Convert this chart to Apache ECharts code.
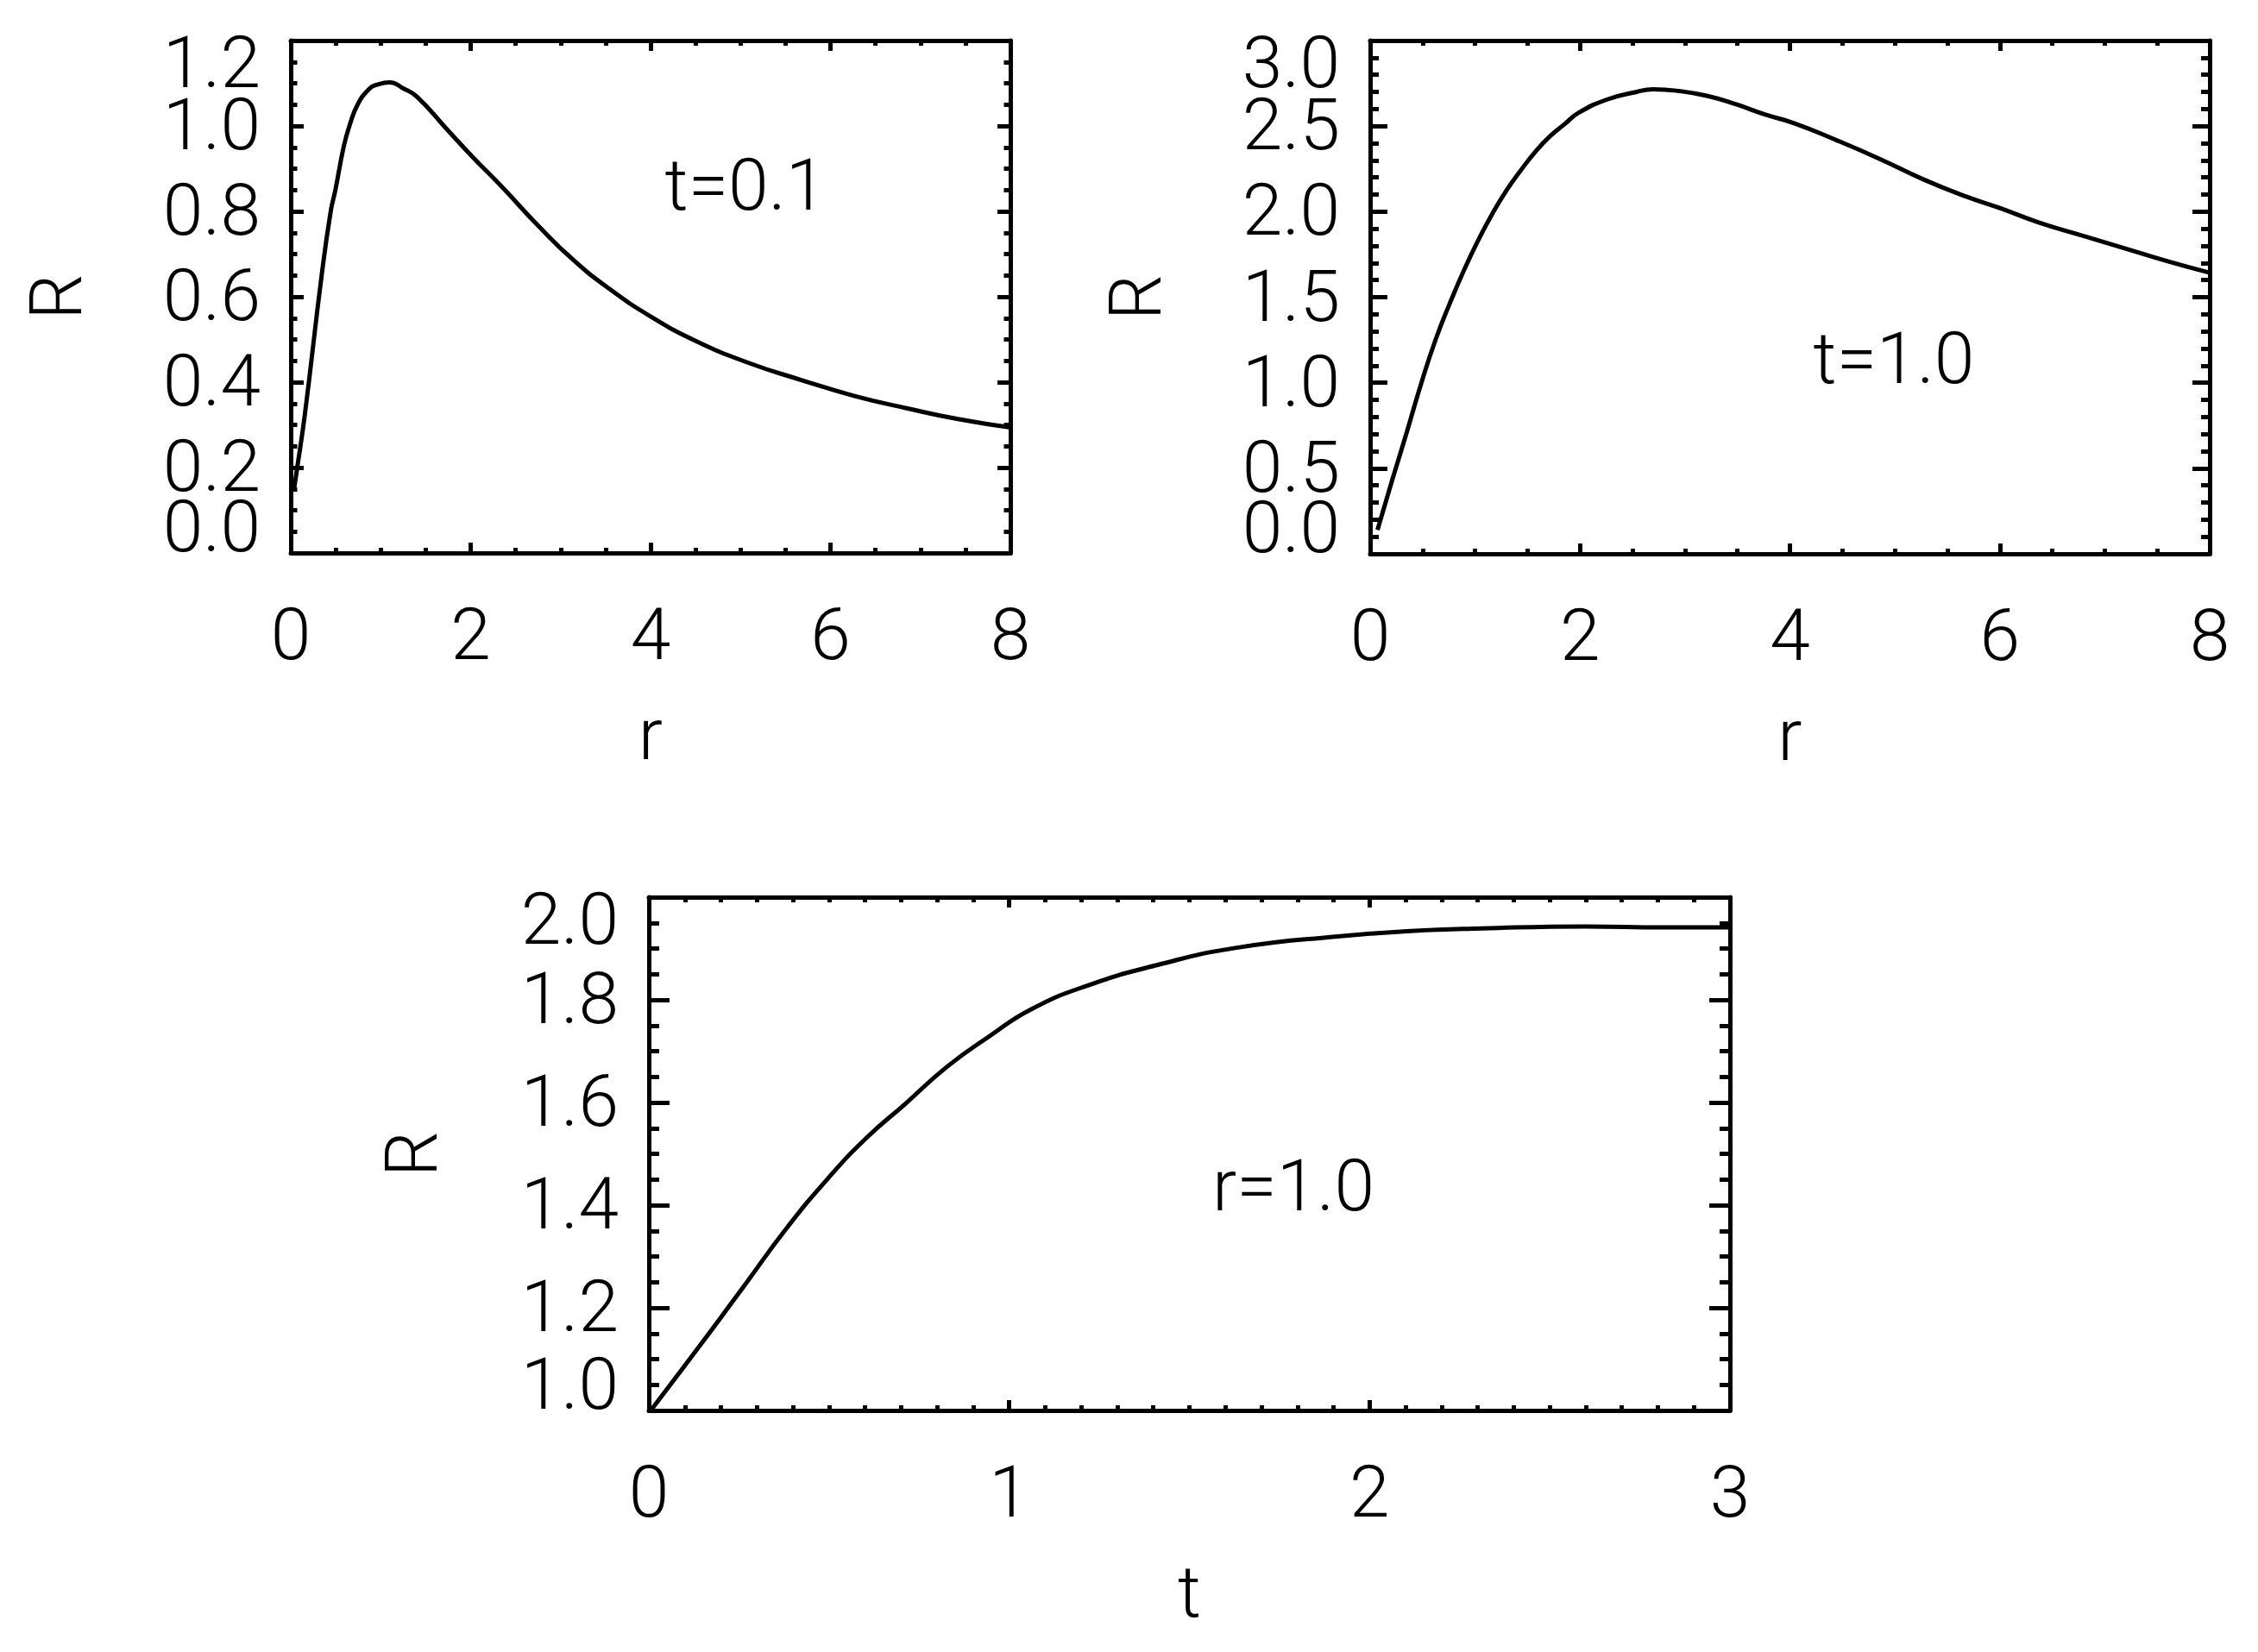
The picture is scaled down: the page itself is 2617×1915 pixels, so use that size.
<!DOCTYPE html>
<html><head><meta charset="utf-8">
<script src="https://cdn.jsdelivr.net/npm/echarts@6/dist/echarts.min.js"></script>
<style>html,body{margin:0;padding:0;background:#fff}#c{width:2617px;height:1915px}</style>
</head><body><div id="c"></div>
<script>
// ---- data ----
// Panel 1: t = 0.1, R vs r
const r1 = [0.035, 0.07, 0.157, 0.342, 0.444, 0.496, 0.588, 0.652, 0.748, 0.873, 0.95, 1.10, 1.25, 1.40, 1.724, 2.01, 2.363, 2.752, 3.142, 3.532, 4.0, 4.507, 5.092, 5.676, 6.261, 6.846, 7.431, 8.0];
const R1 = [0.147, 0.197, 0.325, 0.648, 0.80, 0.85, 0.951, 1.0, 1.052, 1.087, 1.096, 1.102, 1.088, 1.069, 0.995, 0.930, 0.854, 0.766, 0.686, 0.620, 0.554, 0.496, 0.445, 0.405, 0.368, 0.339, 0.313, 0.294];
// Panel 2: t = 1.0, R vs r
const r2 = [0.07, 0.213, 0.349, 0.486, 0.622, 0.759, 0.895, 1.032, 1.168, 1.305, 1.441, 1.578, 1.714, 1.850, 1.987, 2.260, 2.533, 2.697, 2.942, 3.215, 3.488, 3.761, 4.04, 4.45, 4.86, 5.27, 5.68, 6.0, 6.37, 6.78, 7.19, 7.60, 8.0];
const R2 = [0.14, 0.437, 0.711, 0.995, 1.249, 1.464, 1.659, 1.835, 1.992, 2.129, 2.246, 2.353, 2.441, 2.510, 2.578, 2.656, 2.699, 2.715, 2.705, 2.676, 2.627, 2.568, 2.517, 2.416, 2.307, 2.189, 2.088, 2.021, 1.937, 1.861, 1.786, 1.710, 1.643];
// Panel 3: r = 1.0, R vs t
const t3 = [0, 0.166, 0.273, 0.38, 0.497, 0.604, 0.711, 0.828, 0.945, 1.062, 1.218, 1.412, 1.627, 1.919, 2.114, 2.31, 2.60, 2.815, 3.0];
const R3 = [0.995, 1.149, 1.251, 1.353, 1.452, 1.531, 1.597, 1.670, 1.729, 1.782, 1.828, 1.868, 1.901, 1.924, 1.934, 1.939, 1.943, 1.941, 1.941];

// axis ranges: [min, max, interval, minor splits]
const xRange1 = [0, 8, 2, 4];
const yRange1 = [0, 1.2, 0.2, 4];
const xRange2 = [0, 8, 2, 4];
const yRange2 = [0, 3.0, 0.5, 5];
const xRange3 = [0, 3, 1, 10];
const yRange3 = [1.0, 2.0, 0.2, 4];

const labels = ['t=0.1', 't=1.0', 'r=1.0'];
const xNames = ['r', 'r', 't'];
const yNames = ['R', 'R', 'R'];

// ---- styling ----
const FONT = 'Roboto';
const FW = 300;
const FS = 84;
const BLACK = '#000';
const txt = {color: BLACK, fontFamily: FONT, fontWeight: FW, fontSize: FS};

const grids = [
  {left: 337, top: 47, width: 834, height: 594},
  {left: 1588, top: 47, width: 973, height: 595},
  {left: 752, top: 1040, width: 1253, height: 595}
];
const yTickLen = [15, 20, 24];
const yNameGap = [222, 222, 225];
const xTickLen = 12;

function xAxes(gi, rg, name) {
  const base = {
    type: 'value', gridIndex: gi, min: rg[0], max: rg[1], interval: rg[2],
    axisLine: {show: true, onZero: false, lineStyle: {color: BLACK, width: 5}},
    axisTick: {show: true, inside: true, length: xTickLen, lineStyle: {color: BLACK, width: 5}},
    minorTick: {show: true, splitNumber: rg[3], length: xTickLen / 2, lineStyle: {color: BLACK, width: 5}},
    splitLine: {show: false}, minorSplitLine: {show: false}
  };
  return [
    Object.assign({}, base, {
      position: 'bottom',
      axisLabel: Object.assign({show: true, margin: 60, showMinLabel: true, showMaxLabel: true, formatter: v => String(v)}, txt),
      name: name, nameLocation: 'middle', nameGap: 176, nameMoveOverlap: false,
      nameTextStyle: Object.assign({}, txt)
    }),
    Object.assign({}, base, {position: 'top', axisLabel: {show: false}})
  ];
}

function yAxes(gi, rg, name) {
  const len = yTickLen[gi];
  const base = {
    type: 'value', gridIndex: gi, min: rg[0], max: rg[1], interval: rg[2],
    axisLine: {show: true, onZero: false, lineStyle: {color: BLACK, width: 5}},
    axisTick: {show: true, inside: true, length: len, lineStyle: {color: BLACK, width: 5}},
    minorTick: {show: true, splitNumber: rg[3], length: len / 2, lineStyle: {color: BLACK, width: 5}},
    splitLine: {show: false}, minorSplitLine: {show: false}
  };
  return [
    Object.assign({}, base, {
      position: 'left',
      axisLabel: Object.assign({show: true, margin: 35, showMinLabel: false, showMaxLabel: false,
        formatter: v => '{mid|' + v.toFixed(1) + '}',
        rich: {mid: Object.assign({padding: [12, 0, 0, 0]}, txt)}}, txt),
      name: name, nameLocation: 'middle', nameGap: yNameGap[gi], nameMoveOverlap: false,
      nameTextStyle: Object.assign({}, txt)
    }),
    Object.assign({}, base, {position: 'right', axisLabel: {show: false}})
  ];
}

// overlay (same rectangle) carrying only the end labels, shifted inward as in the original
function overlayX(gi, rg) {
  return {type: 'value', gridIndex: 3 + gi, min: rg[0], max: rg[1], interval: rg[2], show: false};
}
function overlayY(gi, rg) {
  const fmt = v => {
    const s = v.toFixed(1);
    if (Math.abs(v - rg[0]) < 1e-6) return '{lo|' + s + '}';
    if (Math.abs(v - rg[1]) < 1e-6) return '{hi|' + s + '}';
    return '';
  };
  return {
    type: 'value', gridIndex: 3 + gi, min: rg[0], max: rg[1], interval: rg[2], position: 'left',
    axisLine: {show: false}, axisTick: {show: false}, minorTick: {show: false},
    splitLine: {show: false}, minorSplitLine: {show: false},
    axisLabel: Object.assign({show: true, margin: 35, showMinLabel: true, showMaxLabel: true, formatter: fmt,
      rich: {
        lo: Object.assign({padding: [0, 0, 46, 0]}, txt),
        hi: Object.assign({padding: [66, 0, 0, 0]}, txt)
      }}, txt)
  };
}

const xs = [r1, r2, t3], ys = [R1, R2, R3];
const xRanges = [xRange1, xRange2, xRange3], yRanges = [yRange1, yRange2, yRange3];
const P = [0, 1, 2];

const option = {
  animation: false,
  backgroundColor: '#fff',
  grid: grids.concat(grids).map(g => Object.assign({containLabel: false, outerBoundsMode: 'none'}, g)),
  xAxis: [].concat(...P.map(i => xAxes(i, xRanges[i], xNames[i]))).concat(P.map(i => overlayX(i, xRanges[i]))),
  yAxis: [].concat(...P.map(i => yAxes(i, yRanges[i], yNames[i]))).concat(P.map(i => overlayY(i, yRanges[i]))),
  series: P.map(i => ({
    type: 'line', xAxisIndex: 2 * i, yAxisIndex: 2 * i,
    data: xs[i].map((x, k) => [x, ys[i][k]]),
    showSymbol: false, smooth: 0.5, clip: true,
    lineStyle: {color: BLACK, width: 5}
  })),
  graphic: [
    {type: 'text', x: 864, y: 222, style: {text: labels[0], fill: BLACK, align: 'center', verticalAlign: 'middle', font: FW + ' ' + FS + 'px ' + FONT}},
    {type: 'text', x: 2195, y: 423, style: {text: labels[1], fill: BLACK, align: 'center', verticalAlign: 'middle', font: FW + ' ' + FS + 'px ' + FONT}},
    {type: 'text', x: 1499, y: 1382, style: {text: labels[2], fill: BLACK, align: 'center', verticalAlign: 'middle', font: FW + ' ' + FS + 'px ' + FONT}}
  ]
};

const chart = echarts.init(document.getElementById('c'), null, {renderer: 'canvas'});
chart.setOption(option);
</script>
</body></html>
